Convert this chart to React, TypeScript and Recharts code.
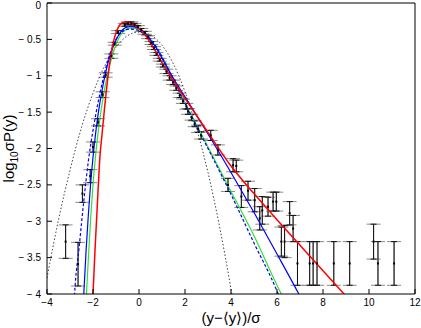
import React from 'react';
import { ComposedChart, Line, Scatter, ErrorBar, XAxis, YAxis, Label } from 'recharts';

const FONT = '"Liberation Sans", Arial, Helvetica, sans-serif';

const xTicks = [-4, -2, 0, 2, 4, 6, 8, 10, 12];
const yTicks = [0, -0.5, -1, -1.5, -2, -2.5, -3, -3.5, -4];

// histogram points with error bars
const ptX = [-3.19, -2.65, -2.46, -2.12, -2.0, -1.78, -1.58, -1.45, -1.2, -1.06, -0.91, -0.62, -0.48, -0.33, -0.19, -0.05, 0.1, 0.25, 0.4, 0.54, 0.65, 0.76, 0.9, 1.04, 1.19, 1.33, 1.48, 1.62, 1.77, 1.91, 2.06, 2.13, 2.28, 2.42, 2.57, 2.7, 3.12, 3.43, 3.87, 4.09, 4.23, 4.45, 4.74, 5.03, 5.25, 5.36, 5.61, 5.83, 5.97, 6.19, 6.33, 6.55, 6.7, 6.89, 7.42, 7.57, 7.74, 8.47, 9.16, 10.2, 10.39, 11.09];
const ptY = [-3.28, -3.59, -2.62, -2.38, -1.98, -1.64, -1.26, -0.99, -0.73, -0.56, -0.4, -0.3, -0.28, -0.28, -0.3, -0.33, -0.37, -0.41, -0.47, -0.55, -0.62, -0.7, -0.78, -0.86, -0.94, -1.03, -1.09, -1.17, -1.27, -1.35, -1.42, -1.49, -1.57, -1.66, -1.73, -1.82, -1.82, -2.02, -2.5, -2.23, -2.24, -2.66, -2.58, -2.71, -2.96, -2.85, -2.8, -2.73, -2.73, -3.28, -3.28, -2.89, -3.1, -3.58, -3.58, -3.58, -3.58, -3.58, -3.58, -3.28, -3.58, -3.58];
const ptErr = [
  0.23, 0.3, 0.12, 0.09, 0.07, 0.05, 0.04, 0.03, 0.03, 0.02,
  0.02, 0.02, 0.02, 0.02, 0.02, 0.02, 0.02, 0.02, 0.02, 0.02,
  0.02, 0.02, 0.02, 0.02, 0.03, 0.03, 0.03, 0.03, 0.03, 0.03,
  0.04, 0.04, 0.04, 0.04, 0.05, 0.05, 0.07, 0.07, 0.09, 0.09,
  0.08, 0.15, 0.13, 0.16, 0.16, 0.19, 0.13, 0.13, 0.13, 0.2,
  0.22, 0.16, 0.18, 0.3, 0.3, 0.3, 0.3, 0.3, 0.3, 0.24,
  0.3, 0.3,
];

// gaussian (black dotted)
const gaussX = [-4.0, -3.5, -3.0, -2.5, -2.0, -1.5, -1.0, -0.5, 0.0, 0.5, 1.0, 1.5, 2.0, 2.5, 3.0, 3.5, 4.0, 4.2];
const gaussY = [-3.78, -2.98, -2.3, -1.71, -1.24, -0.87, -0.61, -0.45, -0.4, -0.44, -0.58, -0.84, -1.22, -1.72, -2.33, -3.07, -3.93, -4.3];

// red fit
const redX = [-2.05, -2.0, -1.9, -1.8, -1.7, -1.6, -1.5, -1.4, -1.3, -1.2, -1.1, -1.0, -0.9, -0.8, -0.7, -0.6, -0.5, -0.4, -0.3, -0.2, 0, 0.25, 0.5, 0.75, 1.0, 1.5, 2, 3, 4, 5, 6, 7, 8, 9, 9.2];
const redY = [-4.4, -4.0, -3.32, -2.7, -2.12, -1.78, -1.45, -1.15, -0.89, -0.68, -0.52, -0.41, -0.335, -0.29, -0.27, -0.262, -0.262, -0.27, -0.285, -0.305, -0.35, -0.43, -0.55, -0.68, -0.82, -1.07, -1.31, -1.78, -2.24, -2.62, -2.98, -3.33, -3.68, -4.03, -4.1];

// blue solid fit
const blueX = [-2.45, -2.4, -2.3, -2.2, -2.1, -2.0, -1.9, -1.8, -1.7, -1.6, -1.5, -1.4, -1.3, -1.2, -1.1, -1.0, -0.9, -0.8, -0.7, -0.6, -0.5, -0.4, -0.3, -0.2, 0, 0.25, 0.5, 0.75, 1.0, 1.5, 2, 3, 4, 5, 6, 7, 7.2];
const blueY = [-4.3, -4.0, -3.4, -2.9, -2.47, -2.12, -1.83, -1.58, -1.37, -1.19, -1.03, -0.89, -0.77, -0.67, -0.58, -0.51, -0.45, -0.4, -0.365, -0.34, -0.33, -0.325, -0.325, -0.33, -0.35, -0.41, -0.51, -0.62, -0.76, -1.04, -1.29, -1.8, -2.33, -2.88, -3.45, -4.03, -4.15];

// blue dashed fit
const dashX = [-2.85, -2.8, -2.6, -2.4, -2.2, -2.0, -1.8, -1.6, -1.4, -1.2, -1.0, -0.8, -0.6, -0.4, -0.2, 0, 0.25, 0.5, 0.75, 1.0, 1.5, 2.0, 3.0, 4.0, 5.0, 6.0, 6.3];
const dashY = [-4.3, -4.0, -3.35, -2.72, -2.17, -1.75, -1.4, -1.1, -0.84, -0.64, -0.5, -0.41, -0.37, -0.36, -0.365, -0.38, -0.43, -0.5, -0.6, -0.74, -1.06, -1.38, -2.0, -2.63, -3.3, -3.96, -4.2];

// green fit
const greenX = [-2.35, -2.3, -2.2, -2.1, -2.0, -1.9, -1.8, -1.7, -1.6, -1.5, -1.4, -1.3, -1.2, -1.1, -1.0, -0.8, -0.6, -0.4, -0.2, 0, 0.25, 0.5, 0.75, 1.0, 1.5, 2.0, 3.0, 4.0, 5.0, 6.0, 6.4];
const greenY = [-4.4, -4.1, -3.5, -2.95, -2.5, -2.14, -1.84, -1.59, -1.38, -1.19, -1.03, -0.89, -0.77, -0.66, -0.57, -0.44, -0.37, -0.345, -0.345, -0.365, -0.42, -0.5, -0.61, -0.74, -1.05, -1.37, -1.98, -2.59, -3.2, -3.88, -4.13];

const zip = (xs: number[], ys: number[]) => xs.map((x, i) => ({ x, y: ys[i] }));

const points = ptX.map((x, i) => ({ x, y: ptY[i], err: ptErr[i] }));

const fmtX = (v: number) => (v < 0 ? '\u2212' + Math.abs(v) : String(v));
const fmtY = (v: number) => (v < 0 ? '\u2212 ' + Math.abs(v) : String(v));

const Dot = (props: any) => {
  const { cx, cy } = props;
  if (cx == null || cy == null) return null;
  return <rect x={cx - 1} y={cy - 1} width={2} height={2} fill="#000" />;
};

// y tick label, kept inside the picture at the top edge
const YTick = (props: any) => {
  const { x, y, payload } = props;
  return (
    <text x={x} y={Math.max(y, 5)} dy="0.35em" textAnchor="end" fontSize={10} fontFamily={FONT} fill="#000">
      {fmtY(payload.value)}
    </text>
  );
};

const XTitle = (props: any) => {
  const vb = props.viewBox;
  return (
    <text x={vb.x + vb.width / 2} y={vb.y + 29} textAnchor="middle" fontSize={15} fontFamily={FONT} fill="#000">
      (y{'\u2212'}{'\u27E8'}y{'\u27E9'})/{'\u03C3'}
    </text>
  );
};

const YTitle = (props: any) => {
  const vb = props.viewBox;
  const cx = 14;
  const cy = vb.y + vb.height / 2;
  return (
    <text x={cx} y={cy} transform={`rotate(-90, ${cx}, ${cy})`} textAnchor="middle" fontSize={15} fontFamily={FONT} fill="#000">
      log<tspan fontSize={10} dy={4}>10</tspan>
      <tspan dy={-4}>{'\u03C3'}P(y)</tspan>
    </text>
  );
};

const tickStyle = { fontSize: 10, fill: '#000', fontFamily: FONT };
const frameX = [-4, 12];
const frameY = [0, -4];

export default function App() {
  return (
    <div style={{ position: 'absolute', left: 0, top: 0, width: 421, height: 328, background: '#fff' }}>
      <ComposedChart width={421} height={328} margin={{ top: 2, right: 5, bottom: 0, left: 0 }}>
        <XAxis
          dataKey="x"
          type="number"
          domain={[-4, 12]}
          ticks={xTicks}
          interval={0}
          allowDataOverflow
          height={34}
          tickSize={-5}
          tickMargin={10}
          tick={tickStyle}
          tickFormatter={fmtX}
          axisLine={{ stroke: '#000' }}
          tickLine={{ stroke: '#000' }}
        >
          <Label content={XTitle} />
        </XAxis>
        <XAxis
          xAxisId="top"
          orientation="top"
          dataKey="x"
          type="number"
          domain={[-4, 12]}
          ticks={xTicks}
          interval={0}
          allowDataOverflow
          height={1}
          tickSize={-5}
          tick={false}
          axisLine={{ stroke: '#000' }}
          tickLine={{ stroke: '#000' }}
        />
        <YAxis
          type="number"
          domain={[-4, 0]}
          ticks={yTicks}
          interval={0}
          allowDataOverflow
          width={47}
          tickSize={-5}
          tickMargin={11}
          tick={YTick}
          axisLine={{ stroke: '#000' }}
          tickLine={{ stroke: '#000' }}
        >
          <Label content={YTitle} />
        </YAxis>
        <YAxis
          yAxisId="right"
          orientation="right"
          type="number"
          domain={[-4, 0]}
          ticks={yTicks}
          interval={0}
          allowDataOverflow
          width={1}
          tickSize={-5}
          tick={false}
          axisLine={{ stroke: '#000' }}
          tickLine={{ stroke: '#000' }}
        />

        {/* invisible series so the mirrored frame axes get drawn */}
        <Line
          xAxisId="top"
          yAxisId="right"
          data={zip(frameX, frameY)}
          dataKey="y"
          dot={false}
          stroke="none"
          strokeWidth={0}
          isAnimationActive={false}
        />

        <Scatter data={points} dataKey="y" shape={Dot} isAnimationActive={false}>
          <ErrorBar dataKey="err" direction="y" width={7} stroke="#8a8a8a" strokeWidth={1} isAnimationActive={false} />
          <ErrorBar dataKey="err" direction="y" width={3} stroke="#111" strokeWidth={1} isAnimationActive={false} />
        </Scatter>

        <Line data={zip(gaussX, gaussY)} dataKey="y" type="monotone" dot={false} stroke="#444" strokeWidth={1} strokeDasharray="1.5 2" isAnimationActive={false} />
        <Line data={zip(greenX, greenY)} dataKey="y" type="monotone" dot={false} stroke="#33e033" strokeWidth={1.2} isAnimationActive={false} />
        <Line data={zip(dashX, dashY)} dataKey="y" type="monotone" dot={false} stroke="#0000ff" strokeWidth={1.2} strokeDasharray="3 2" isAnimationActive={false} />
        <Line data={zip(blueX, blueY)} dataKey="y" type="monotone" dot={false} stroke="#0000ff" strokeWidth={1.2} isAnimationActive={false} />
        <Line data={zip(redX, redY)} dataKey="y" type="monotone" dot={false} stroke="#ff0000" strokeWidth={1.5} isAnimationActive={false} />
      </ComposedChart>
    </div>
  );
}
